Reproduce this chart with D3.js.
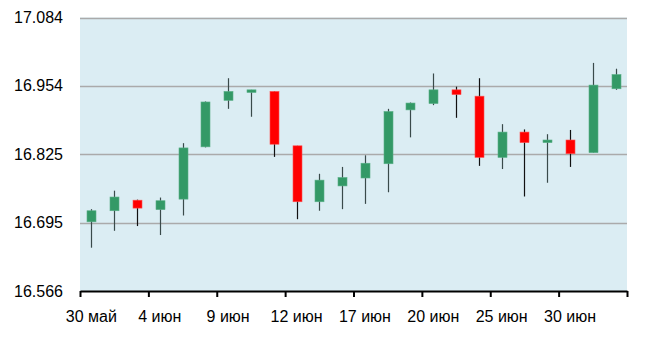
<!DOCTYPE html>
<html>
<head>
<meta charset="utf-8">
<script src="https://cdn.jsdelivr.net/npm/d3@7"></script>
<style>
  html, body { margin: 0; padding: 0; background: #ffffff; }
  svg { display: block; }
  text { font-family: "Liberation Sans", Arial, sans-serif; }
</style>
</head>
<body>
<svg id="chart" width="657" height="349"></svg>
<script>
const dates = ["30 май","31 май","3 июн","4 июн","5 июн","7 июн","9 июн","10 июн","11 июн","12 июн","13 июн","14 июн","17 июн","18 июн","19 июн","20 июн","21 июн","24 июн","25 июн","26 июн","27 июн","30 июн","1 июл","2 июл"];
const openV  = [16.697,16.718,16.738,16.720,16.740,16.839,16.927,16.942,16.944,16.841,16.735,16.765,16.780,16.807,16.909,16.921,16.947,16.935,16.819,16.867,16.847,16.852,16.828,16.949];
const highV  = [16.721,16.756,16.739,16.743,16.846,16.925,16.969,16.947,16.944,16.841,16.788,16.801,16.823,16.911,16.923,16.978,16.953,16.969,16.882,16.872,16.863,16.871,16.998,16.987];
const lowV   = [16.648,16.680,16.689,16.672,16.709,16.838,16.911,16.896,16.820,16.702,16.718,16.721,16.731,16.753,16.857,16.918,16.894,16.803,16.797,16.745,16.771,16.801,16.828,16.947];
const closeV = [16.718,16.744,16.723,16.737,16.837,16.924,16.944,16.947,16.844,16.735,16.776,16.781,16.808,16.906,16.922,16.947,16.938,16.819,16.867,16.847,16.852,16.826,16.956,16.976];
const yTickValues = [16.566, 16.6955, 16.825, 16.9545, 17.084];
const yTickLabels = ["16.566","16.695","16.825","16.954","17.084"];
const xLabelEvery = 3;

const svg = d3.select("#chart");
const L = 80, R = 627, T = 17.5, B = 291;

const x = d3.scaleBand().domain(dates).range([L, R]).padding(0);
const xi = d3.scaleLinear().domain([0, dates.length]).range([L, R]);
const y = d3.scaleLinear().domain([16.566, 17.084]).range([B, T]);

// plot background
svg.append("rect").attr("x", L).attr("y", T).attr("width", R - L).attr("height", B - T).attr("fill", "#dbedf3");

// gridlines
svg.append("g").selectAll("line").data(yTickValues.slice(1)).join("line")
  .attr("x1", L).attr("x2", R)
  .attr("y1", d => Math.round(y(d)) + 0.5).attr("y2", d => Math.round(y(d)) + 0.5)
  .attr("stroke", "#aaaaaa").attr("stroke-width", 1.5);

// y labels
svg.append("g").selectAll("text").data(yTickValues).join("text")
  .attr("x", 63).attr("y", d => y(d)).attr("dy", "0.35em")
  .attr("text-anchor", "end").attr("font-size", 16).attr("fill", "#000")
  .text((d, i) => yTickLabels[i]);

// candles
const data = dates.map((d, i) => ({d, o: openV[i], h: highV[i], l: lowV[i], c: closeV[i]}));
const bw = 9;
const g = svg.append("g");
g.selectAll("line.wick").data(data).join("line").attr("class", "wick")
  .attr("x1", d => Math.round(x(d.d) + x.bandwidth() / 2) + 0.5)
  .attr("x2", d => Math.round(x(d.d) + x.bandwidth() / 2) + 0.5)
  .attr("y1", d => y(d.h)).attr("y2", d => y(d.l))
  .attr("stroke", d => d.c >= d.o ? "#3a4a4a" : "#111").attr("stroke-width", 1.2);
g.selectAll("rect.body").data(data).join("rect").attr("class", "body")
  .attr("x", d => Math.round(x(d.d) + x.bandwidth() / 2) + 0.5 - bw / 2)
  .attr("width", bw)
  .attr("y", d => y(Math.max(d.o, d.c)))
  .attr("height", d => Math.max(2.5, Math.abs(y(d.o) - y(d.c))))
  .attr("fill", d => d.c >= d.o ? "#339966" : "#ff0000")
  .attr("stroke", d => d.c >= d.o ? "#5bb088" : "#ff5050").attr("stroke-width", 0.6);

// x axis ticks and line
const xAxis = d3.axisBottom(xi)
  .tickValues(d3.range(0, dates.length + 1, xLabelEvery))
  .tickFormat("").tickSize(6).tickSizeOuter(0);
const ax = svg.append("g").attr("transform", `translate(0,${B})`).call(xAxis);
ax.select(".domain").attr("stroke", "#000").attr("stroke-width", 2);
ax.selectAll(".tick line").attr("stroke", "#000").attr("stroke-width", 2);

// x labels at band centres
const xLab = d3.axisBottom(x)
  .tickValues(dates.filter((d, i) => i % xLabelEvery === 0))
  .tickSize(0).tickPadding(20);
const lx = svg.append("g").attr("transform", `translate(0,${B})`).call(xLab);
lx.select(".domain").remove();
lx.selectAll("text").attr("font-size", 16).attr("fill", "#000")
  .attr("font-family", "'Liberation Sans', Arial, sans-serif");
</script>
</body>
</html>
